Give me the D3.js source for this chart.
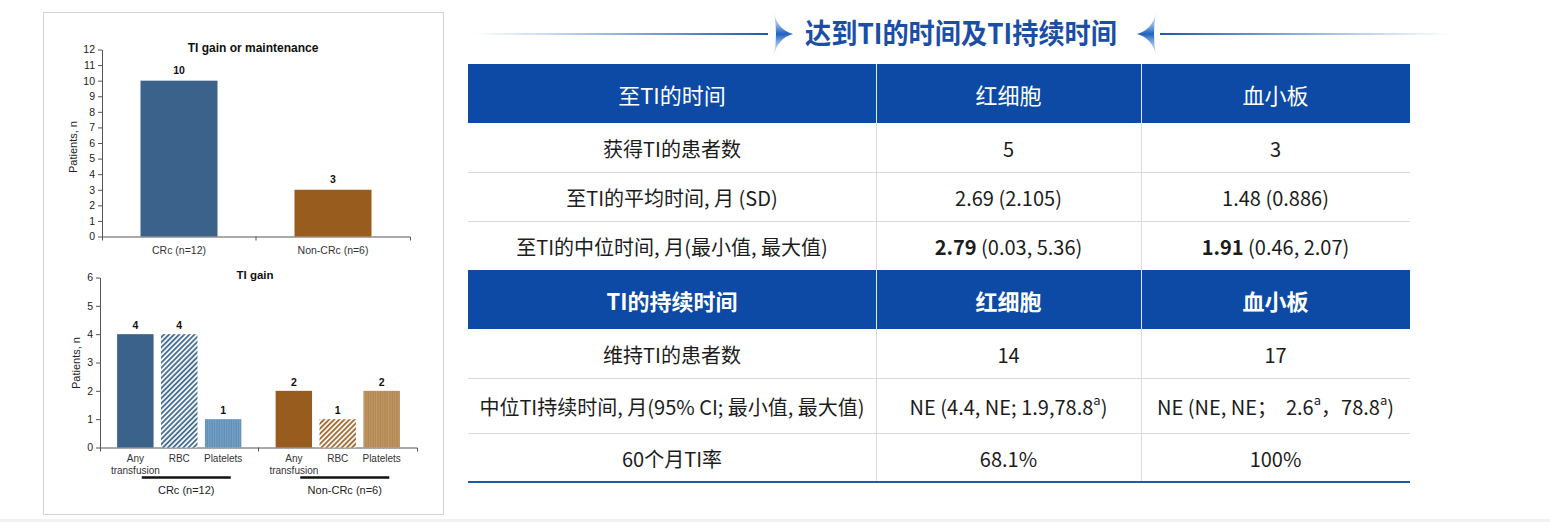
<!DOCTYPE html>
<html>
<head>
<meta charset="utf-8">
<script src="https://cdn.jsdelivr.net/npm/d3@7"></script>
<style>
  body { margin: 0; background: #fff; }
  svg { display: block; }
  .cjk { font-family: "Noto Sans CJK SC", "Noto Sans", sans-serif; white-space: pre; }
  .arial { font-family: "Liberation Sans", Arial, sans-serif; }
</style>
</head>
<body>
<div id="chart"></div>
<script>
// upper panel: TI gain or maintenance
const mainCats = ["CRc (n=12)", "Non-CRc (n=6)"];
const mainValues = [10, 3];
const mainTicks = [0, 1, 2, 3, 4, 5, 6, 7, 8, 9, 10, 11, 12];

// lower panel: TI gain
const gainGroups = ["CRc (n=12)", "Non-CRc (n=6)"];
const gainKinds = ["Any transfusion", "RBC", "Platelets"];
const gainCRc = [4, 4, 1];
const gainNonCRc = [2, 1, 2];
const gainTicks = [0, 1, 2, 3, 4, 5, 6];

// table
const pageTitle = "达到TI的时间及TI持续时间";
const timeHeader = ["至TI的时间", "红细胞", "血小板"];
const timeRows = [
  ["获得TI的患者数", "5", "3"],
  ["至TI的平均时间, 月 (SD)", "2.69 (2.105)", "1.48 (0.886)"],
  ["至TI的中位时间, 月(最小值, 最大值)", "2.79 (0.03, 5.36)", "1.91 (0.46, 2.07)"]
];
const durHeader = ["TI的持续时间", "红细胞", "血小板"];
const durRows = [
  ["维持TI的患者数", "14", "17"],
  ["中位TI持续时间, 月(95% CI; 最小值, 最大值)", "NE (4.4, NE; 1.9,78.8^a)", "NE (NE, NE；  2.6^a，78.8^a)"],
  ["60个月TI率", "68.1%", "100%"]
];

const svg = d3.select("#chart").append("svg")
  .attr("width", 1550)
  .attr("height", 522);
const defs = svg.append("defs");

// ---------- patterns for the lower bars ----------
function diagPattern(id, color) {
  const p = defs.append("pattern").attr("id", id)
    .attr("patternUnits", "userSpaceOnUse")
    .attr("width", 3.6).attr("height", 3.6)
    .attr("patternTransform", "rotate(45)");
  p.append("rect").attr("width", 3.6).attr("height", 3.6).attr("fill", "#fff");
  p.append("line").attr("x1", 1).attr("x2", 1).attr("y1", 0).attr("y2", 3.6)
    .attr("stroke", color).attr("stroke-width", 1.8);
}
function vertPattern(id, base, line) {
  const p = defs.append("pattern").attr("id", id)
    .attr("patternUnits", "userSpaceOnUse")
    .attr("width", 2.4).attr("height", 4);
  p.append("rect").attr("width", 2.4).attr("height", 4).attr("fill", base);
  p.append("line").attr("x1", 0.6).attr("x2", 0.6).attr("y1", 0).attr("y2", 4)
    .attr("stroke", line).attr("stroke-width", 0.9);
}
diagPattern("diagBlue", "#3d6890");
diagPattern("diagBrown", "#a0642a");
vertPattern("vertBlue", "#5f8fb8", "#7aa6cb");
vertPattern("vertBrown", "#b2864f", "#c59c6b");

const blueFills = ["#3a628a", "url(#diagBlue)", "url(#vertBlue)"];
const brownFills = ["#985c1f", "url(#diagBrown)", "url(#vertBrown)"];

// ---------- left panel frame ----------
svg.append("rect")
  .attr("x", 43.5).attr("y", 12.5)
  .attr("width", 400).attr("height", 502)
  .attr("fill", "#fff").attr("stroke", "#d4d4d4");

function styleAxis(g) {
  g.selectAll("path, line").attr("stroke", "#555");
  g.selectAll("text").attr("fill", "#222")
    .style("font-family", "'Liberation Sans', Arial, sans-serif")
    .style("font-size", "10.5px");
}

// ---------- upper chart ----------
const x1 = d3.scaleBand().domain(mainCats).range([102, 410])
  .paddingInner(0.5).paddingOuter(0.25);
const y1 = d3.scaleLinear().domain([0, 12]).range([236.5, 49.5]);

const topG = svg.append("g");
topG.append("g")
  .attr("transform", "translate(102,0)")
  .call(d3.axisLeft(y1).tickValues(mainTicks).tickFormat(d3.format("d"))
    .tickSizeInner(4).tickSizeOuter(0).tickPadding(3))
  .call(styleAxis);

topG.append("g")
  .attr("transform", "translate(0,236.5)")
  .call(d3.axisBottom(x1).tickSizeInner(0).tickSizeOuter(4).tickPadding(10))
  .call(styleAxis)
  .call(g => g.selectAll("text").attr("fill", "#333"));

// divider tick between the two categories
topG.append("line")
  .attr("x1", x1(mainCats[1]) - x1.step() * x1.paddingInner() / 2)
  .attr("x2", x1(mainCats[1]) - x1.step() * x1.paddingInner() / 2)
  .attr("y1", 236.5).attr("y2", 240.5)
  .attr("stroke", "#555");

topG.selectAll(".bar")
  .data(mainValues)
  .join("rect")
  .attr("class", "bar")
  .attr("x", (d, i) => x1(mainCats[i]))
  .attr("width", x1.bandwidth())
  .attr("y", d => y1(d))
  .attr("height", d => y1(0) - y1(d))
  .attr("fill", (d, i) => i === 0 ? "#3a628a" : "#985c1f");

topG.selectAll(".val")
  .data(mainValues)
  .join("text")
  .attr("class", "val arial")
  .attr("x", (d, i) => x1(mainCats[i]) + x1.bandwidth() / 2)
  .attr("y", d => y1(d) - 7)
  .attr("text-anchor", "middle")
  .style("font-size", "10.5px").style("font-weight", "bold").attr("fill", "#111")
  .text(d => d);

topG.append("text").attr("class", "arial")
  .attr("x", 253).attr("y", 52)
  .attr("text-anchor", "middle")
  .style("font-size", "12px").style("font-weight", "bold").attr("fill", "#111")
  .text("TI gain or maintenance");

topG.append("text").attr("class", "arial")
  .attr("transform", "translate(77,147) rotate(-90)")
  .attr("text-anchor", "middle")
  .style("font-size", "11px").attr("fill", "#222")
  .text("Patients, n");

// ---------- lower chart ----------
const x2 = d3.scaleBand().domain(gainGroups).range([100, 417]);
const x2in = d3.scaleBand().domain(gainKinds).range([0, x2.bandwidth()])
  .paddingInner(0.17).paddingOuter(0.39);
const y2 = d3.scaleLinear().domain([0, 6]).range([447.5, 277.5]);

const botG = svg.append("g");
botG.append("g")
  .attr("transform", "translate(100,0)")
  .call(d3.axisLeft(y2).tickValues(gainTicks).tickFormat(d3.format("d"))
    .tickSizeInner(4).tickSizeOuter(0).tickPadding(3))
  .call(styleAxis);

botG.append("g")
  .attr("transform", "translate(0,447.5)")
  .call(d3.axisBottom(x2).tickSizeInner(0).tickSizeOuter(4).tickFormat(""))
  .call(styleAxis);

botG.append("line")
  .attr("x1", x2(gainGroups[1])).attr("x2", x2(gainGroups[1]))
  .attr("y1", 447.5).attr("y2", 451.5)
  .attr("stroke", "#555");

const groupData = [gainCRc, gainNonCRc];
const groupFills = [blueFills, brownFills];

groupData.forEach((vals, gi) => {
  const gx = x2(gainGroups[gi]);
  const g = botG.append("g").attr("transform", "translate(" + gx + ",0)");

  g.selectAll("rect")
    .data(vals)
    .join("rect")
    .attr("x", (d, i) => x2in(gainKinds[i]))
    .attr("width", x2in.bandwidth())
    .attr("y", d => y2(d))
    .attr("height", d => y2(0) - y2(d))
    .attr("fill", (d, i) => groupFills[gi][i]);

  g.selectAll(".val")
    .data(vals)
    .join("text")
    .attr("class", "val arial")
    .attr("x", (d, i) => x2in(gainKinds[i]) + x2in.bandwidth() / 2)
    .attr("y", d => y2(d) - 5)
    .attr("text-anchor", "middle")
    .style("font-size", "10.5px").style("font-weight", "bold").attr("fill", "#111")
    .text(d => d);

  // category labels, "Any transfusion" on two lines
  gainKinds.forEach(k => {
    const t = g.append("text").attr("class", "arial")
      .attr("x", x2in(k) + x2in.bandwidth() / 2)
      .attr("y", 462)
      .attr("text-anchor", "middle")
      .style("font-size", "10px").attr("fill", "#333");
    k.split(" ").forEach((w, j) => {
      t.append("tspan")
        .attr("x", x2in(k) + x2in.bandwidth() / 2)
        .attr("dy", j === 0 ? 0 : 12)
        .text(w);
    });
  });

  const cx = x2.bandwidth() / 2 + 7;
  g.append("line")
    .attr("x1", cx - 44.5).attr("x2", cx + 44.5)
    .attr("y1", 477.5).attr("y2", 477.5)
    .attr("stroke", "#111").attr("stroke-width", 2.6);
  g.append("text").attr("class", "arial")
    .attr("x", cx).attr("y", 494)
    .attr("text-anchor", "middle")
    .style("font-size", "11px").attr("fill", "#222")
    .text(gainGroups[gi]);
});

botG.append("text").attr("class", "arial")
  .attr("x", 255).attr("y", 279)
  .attr("text-anchor", "middle")
  .style("font-size", "11.5px").style("font-weight", "bold").attr("fill", "#111")
  .text("TI gain");

botG.append("text").attr("class", "arial")
  .attr("transform", "translate(80,363) rotate(-90)")
  .attr("text-anchor", "middle")
  .style("font-size", "11px").attr("fill", "#222")
  .text("Patients, n");

// ---------- title with decorations ----------
const lgL = defs.append("linearGradient").attr("id", "lineL")
  .attr("x1", "0").attr("x2", "1").attr("y1", "0").attr("y2", "0");
lgL.append("stop").attr("offset", "0").attr("stop-color", "#2e6fc4").attr("stop-opacity", 0);
lgL.append("stop").attr("offset", "1").attr("stop-color", "#1f58b0").attr("stop-opacity", 1);
const lgR = defs.append("linearGradient").attr("id", "lineR")
  .attr("x1", "0").attr("x2", "1").attr("y1", "0").attr("y2", "0");
lgR.append("stop").attr("offset", "0").attr("stop-color", "#1f58b0").attr("stop-opacity", 1);
lgR.append("stop").attr("offset", "1").attr("stop-color", "#2e6fc4").attr("stop-opacity", 0);
const lgA = defs.append("linearGradient").attr("id", "arrowGrad")
  .attr("x1", "0").attr("x2", "0").attr("y1", "0").attr("y2", "1");
lgA.append("stop").attr("offset", "0").attr("stop-color", "#9cc4ee").attr("stop-opacity", 0.3);
lgA.append("stop").attr("offset", "0.5").attr("stop-color", "#1f60c0");
lgA.append("stop").attr("offset", "1").attr("stop-color", "#9cc4ee").attr("stop-opacity", 0.3);

svg.append("rect").attr("x", 473).attr("y", 33).attr("width", 295).attr("height", 2).attr("fill", "url(#lineL)");
svg.append("rect").attr("x", 1160).attr("y", 33).attr("width", 290).attr("height", 2).attr("fill", "url(#lineR)");
svg.append("path")
  .attr("d", "M774,13 Q778,30 793,34 Q778,38 774,55 Q778,34 774,13 Z")
  .attr("fill", "url(#arrowGrad)");
svg.append("path")
  .attr("d", "M1156,13 Q1152,30 1137,34 Q1152,38 1156,55 Q1152,34 1156,13 Z")
  .attr("fill", "url(#arrowGrad)");

svg.append("text").attr("class", "cjk")
  .attr("x", 805).attr("y", 44)
  .attr("textLength", 312).attr("lengthAdjust", "spacingAndGlyphs")
  .style("font-size", "28px").style("font-weight", "bold")
  .attr("fill", "#1b4ea6")
  .text(pageTitle);

// ---------- table ----------
const colX = [468, 876, 1141, 1410];
const colMid = [0, 1, 2].map(i => (colX[i] + colX[i + 1]) / 2);
const headColor = "#0c4aa6";

function header(y, h, cells, bold) {
  svg.append("rect").attr("x", colX[0]).attr("y", y)
    .attr("width", colX[3] - colX[0]).attr("height", h)
    .attr("fill", headColor);
  [1, 2].forEach(i => svg.append("line")
    .attr("x1", colX[i] + 0.5).attr("x2", colX[i] + 0.5)
    .attr("y1", y).attr("y2", y + h)
    .attr("stroke", "#dfe8f5").attr("stroke-width", 1));
  cells.forEach((c, i) => svg.append("text").attr("class", "cjk")
    .attr("x", colMid[i]).attr("y", y + h / 2)
    .attr("text-anchor", "middle").attr("dominant-baseline", "central")
    .style("font-size", "22px").style("font-weight", bold ? "bold" : "normal")
    .attr("fill", "#fff")
    .text(c));
}

function cellText(x, y, str, boldLead) {
  const t = svg.append("text").attr("class", "cjk")
    .attr("x", x).attr("y", y)
    .attr("text-anchor", "middle").attr("dominant-baseline", "central")
    .style("font-size", "20px").attr("fill", "#1c1c1c");
  let rest = str;
  if (boldLead) {
    const k = str.indexOf(" ");
    t.append("tspan").style("font-weight", "bold").text(str.slice(0, k));
    rest = str.slice(k);
  }
  const parts = rest.split("^a");
  parts.forEach((p, i) => {
    t.append("tspan").attr("dy", i > 0 ? 7 : null).text(p);
    if (i < parts.length - 1) {
      t.append("tspan").attr("dy", -7).style("font-size", "13px").text("a");
    }
  });
}

function bodyRows(y0, heights, rows) {
  let y = y0;
  rows.forEach((r, ri) => {
    const h = heights[ri];
    if (ri > 0) {
      svg.append("line").attr("x1", colX[0]).attr("x2", colX[3])
        .attr("y1", y + 0.5).attr("y2", y + 0.5)
        .attr("stroke", "#dadada");
    }
    [1, 2].forEach(i => svg.append("line")
      .attr("x1", colX[i] + 0.5).attr("x2", colX[i] + 0.5)
      .attr("y1", y).attr("y2", y + h)
      .attr("stroke", "#dadada"));
    const boldLead = r[0].startsWith("至TI的中位");
    r.forEach((c, i) => cellText(colMid[i], y + h / 2, c, boldLead && i > 0));
    y += h;
  });
  return y;
}

header(64, 59, timeHeader, false);
bodyRows(123, [49, 49, 49], timeRows);
header(270, 59, durHeader, true);
const tEnd = bodyRows(329, [49, 55, 49], durRows);
svg.append("line").attr("x1", colX[0]).attr("x2", colX[3])
  .attr("y1", tEnd).attr("y2", tEnd)
  .attr("stroke", "#1f58b0").attr("stroke-width", 2);

// faint base strip
svg.append("rect").attr("x", 0).attr("y", 519).attr("width", 1550).attr("height", 3).attr("fill", "#f1f1f1");
</script>
</body>
</html>
